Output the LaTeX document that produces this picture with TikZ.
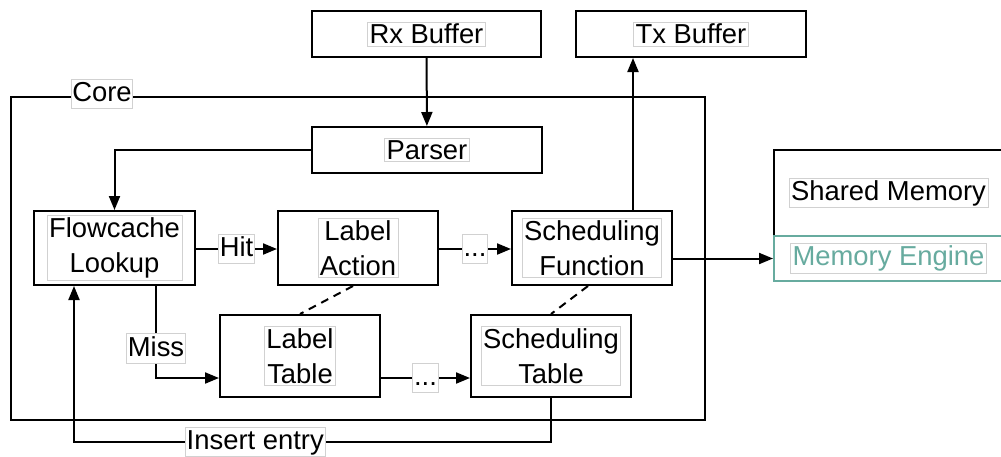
\documentclass[tikz,border=0pt]{standalone}
\usepackage{fontspec}
\setmainfont{Liberation Sans}
\usetikzlibrary{arrows.meta}
\definecolor{memteal}{HTML}{67AB9F}
\tikzset{
	box/.style={draw, line width=1pt, inner sep=0pt, minimum width=80pt, minimum height=37pt},
	txt/.style={draw=black!18, line width=0.4pt, fill=white, inner sep=1pt, align=center, font=\fontsize{13.7}{17.5}\selectfont},
	lbl/.style={txt, inner sep=0.6pt, text height=10.5pt, text depth=3pt},
	arr/.style={line width=1pt, -{Triangle[length=7pt,width=5.5pt]}},
	dep/.style={line width=1pt, dash pattern=on 4pt off 3pt},
}

\begin{document}
\begin{tikzpicture}[x=0.5pt, y=-0.5pt]
	\useasboundingbox (0,0) rectangle (1001,456);
	% core frame
	\node[box, minimum width=347pt, minimum height=161.5pt] (core) at (358,258.5) {};
	\node[lbl] (corelbl) at (102,94) {Core};
	% buffers
	\node[box, minimum width=114.5pt, minimum height=23pt, label={[txt]center:Rx Buffer}] (rx) at (426.5,34) {};
	\node[box, minimum width=115pt, minimum height=23pt, label={[txt]center:Tx Buffer}] (tx) at (691,34) {};
	\node[box, minimum width=115pt, minimum height=23pt, label={[txt]center:Parser}] (parser) at (427,150) {};
	% pipeline
	\node[box, minimum width=80.5pt, label={[txt]center:{Flowcache\\Lookup}}] (flow) at (114.5,248) {};
	\node[box, label={[txt]center:{Label\\Action}}] (lact) at (358,248) {};
	\node[box, label={[txt]center:{Scheduling\\Function}}] (sfun) at (592,248) {};
	\node[box, minimum height=41pt, label={[txt]center:{Label\\Table}}] (ltab) at (300,356) {};
	\node[box, minimum height=41pt, label={[txt]center:{Scheduling\\Table}}] (stab) at (551,356) {};
	% shared memory
	\node[box, minimum width=114.5pt, minimum height=43pt, label={[txt]center:Shared Memory}] (shmem) at (888.5,193) {};
	\node[box, draw=memteal, minimum width=114.5pt, minimum height=22.5pt, label={[txt, text=memteal]center:Memory Engine}] (meng) at (888.5,258.5) {};

	\draw[arr] (rx) -- (parser);
	\draw[arr] (parser.west) -| (flow.north);
	\draw[arr] ([yshift=-0.5pt]flow.east) -- node[lbl]{Hit} ([yshift=-0.5pt]lact.west);
	\draw[arr] ([yshift=-0.5pt]lact.east) -- node[lbl]{...} ([yshift=-0.5pt]sfun.west);
	\draw[arr] ([xshift=-20pt]sfun.north east) -- ([xshift=-20pt]sfun.north east |- tx.south);
	\draw[arr] (sfun.east |- meng.west) -- (meng.west);
	\draw[arr] ([xshift=20.75pt]flow.south) |- node[lbl, pos=0.34]{Miss} ([yshift=-11pt]ltab.west);
	\draw[arr] ([yshift=-11pt]ltab.east) -- node[lbl]{...} ([yshift=-11pt]stab.west);
	\draw[arr] (stab.south) -- ++(0,44) -| node[lbl, pos=0.31]{Insert entry} ([xshift=-20.25pt]flow.south);
	\draw[dep] ([xshift=-2.5pt]lact.south) -- (ltab.north);
	\draw[dep] ([xshift=-2pt]sfun.south) -- (stab.north);
\end{tikzpicture}
\end{document}
